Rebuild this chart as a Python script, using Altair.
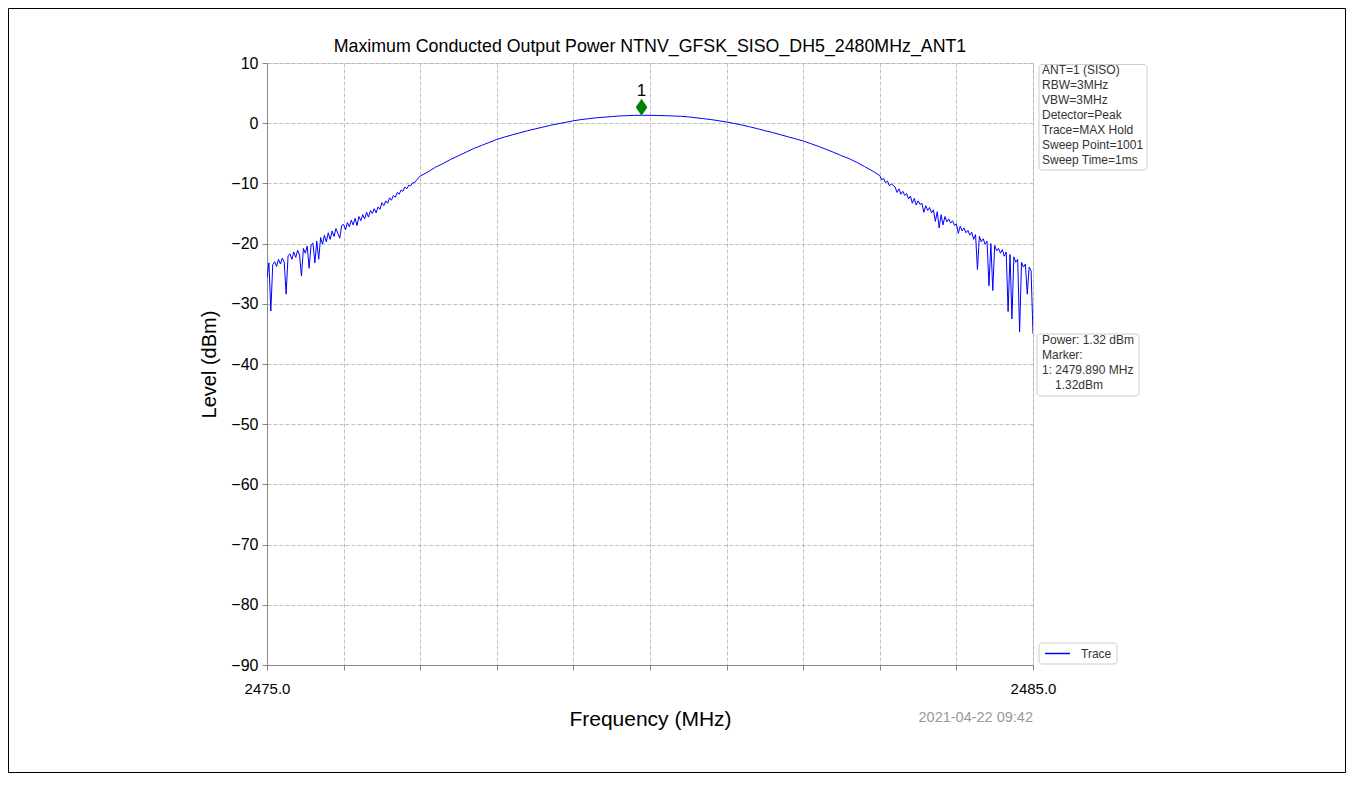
import altair as alt
import pandas as pd

# ---------------- data ----------------
title_text = "Maximum Conducted Output Power NTNV_GFSK_SISO_DH5_2480MHz_ANT1"

# left noisy skirt: 2475.000 .. 2476.975 MHz, step 0.025
left_start, left_step = 2475.0, 0.025
left_level = [
    -25.7, -23.2, -31.2, -23.5, -23.0, -23.8, -22.6, -23.4, -22.4, -23.1,
    -28.4, -22.0, -21.7, -22.6, -21.4, -22.3, -21.1, -21.9, -25.4, -20.8,
    -21.6, -20.4, -24.1, -20.2, -19.9, -23.2, -19.6, -22.6, -19.0, -20.1,
    -18.6, -19.7, -18.2, -19.3, -17.9, -18.8, -17.5, -18.3, -19.1, -17.0,
    -16.8, -17.7, -16.5, -17.2, -16.1, -16.9, -15.8, -17.0, -15.5, -16.2,
    -15.2, -15.9, -14.8, -15.6, -14.5, -15.0, -14.2, -14.9, -13.9, -14.3,
    -13.2, -13.7, -12.9, -13.3, -12.4, -12.8, -12.0, -12.3, -11.5, -11.8,
    -11.1, -11.3, -10.6, -10.9, -10.3, -10.4, -9.9, -9.9, -9.5, -9.1,
]
# smooth main lobe: 2477.0 .. 2482.9 MHz, step 0.1
mid_start, mid_step = 2477.0, 0.1
mid_level = [
    -8.8, -8.1, -7.3, -6.7, -6.0, -5.4, -4.8, -4.2, -3.7, -3.2,
    -2.7, -2.3, -1.95, -1.6, -1.25, -0.95, -0.65, -0.35, -0.1, 0.15,
    0.4, 0.6, 0.75, 0.9, 1.0, 1.1, 1.2, 1.25, 1.3, 1.32,
    1.3, 1.28, 1.25, 1.2, 1.15, 1.05, 0.9, 0.75, 0.6, 0.4,
    0.2, -0.05, -0.3, -0.6, -0.9, -1.25, -1.55, -1.9, -2.25, -2.6,
    -2.95, -3.4, -3.85, -4.35, -4.85, -5.4, -5.9, -6.5, -7.2, -7.9,
]
# right noisy skirt: 2483.000 .. 2485.000 MHz, step 0.025
right_start, right_step = 2483.0, 0.025
right_level = [
    -8.7, -9.4, -9.2, -9.9, -9.6, -10.4, -10.1, -10.3, -10.6, -11.5,
    -10.9, -11.8, -11.3, -12.0, -11.7, -12.6, -12.1, -13.3, -12.5, -13.6,
    -12.9, -13.5, -13.3, -14.8, -13.7, -14.5, -14.0, -14.9, -14.4, -16.3,
    -14.7, -17.4, -15.2, -16.9, -15.5, -16.4, -15.9, -16.6, -16.2, -17.0,
    -16.7, -18.3, -17.1, -17.9, -17.4, -18.2, -17.8, -18.6, -18.1, -19.3,
    -18.5, -24.3, -18.8, -19.7, -19.2, -20.1, -19.6, -27.0, -20.0, -27.8,
    -20.3, -21.2, -20.8, -21.6, -21.0, -22.1, -21.4, -31.3, -21.8, -32.5,
    -22.2, -23.1, -22.6, -34.7, -23.1, -23.9, -23.4, -28.4, -23.9, -24.5,
    -35.0,
]

marker_freq = [2479.89]
marker_level = [1.32]
marker_label = ["1"]

x_ticks = [2475, 2476, 2477, 2478, 2479, 2480, 2481, 2482, 2483, 2484, 2485]
y_ticks = [-90, -80, -70, -60, -50, -40, -30, -20, -10, 0, 10]

info_lines = ["ANT=1 (SISO)", "RBW=3MHz", "VBW=3MHz", "Detector=Peak",
              "Trace=MAX Hold", "Sweep Point=1001", "Sweep Time=1ms"]
power_lines = ["Power: 1.32 dBm", "Marker:", "1: 2479.890 MHz"]
power_value_line = "1.32dBm"
legend_label = "Trace"
timestamp = "2021-04-22 09:42"

# ---------------- build table ----------------
freq, level = [], []
for start, step, vals in [(left_start, left_step, left_level),
                          (mid_start, mid_step, mid_level),
                          (right_start, right_step, right_level)]:
    for i, v in enumerate(vals):
        freq.append(round(start + i * step, 4))
        level.append(v)
trace_df = pd.DataFrame({"freq": freq, "level": level})
marker_df = pd.DataFrame({"freq": marker_freq, "level": marker_level, "label": marker_label})
one = pd.DataFrame({"k": [0]})

FONT = "Liberation Sans"
W, H = 766, 602
GRID = dict(grid=True, gridColor="#b0b0b0", gridDash=[4, 2], gridWidth=0.8, gridOpacity=1)

x_enc = alt.X("freq:Q",
              scale=alt.Scale(domain=[2475, 2485], nice=False, zero=False),
              axis=alt.Axis(values=x_ticks,
                            labelExpr="datum.value == 2475 || datum.value == 2485 ? format(datum.value, '.1f') : ''",
                            title="Frequency (MHz)", titleFontSize=21, titlePadding=12,
                            titleFontWeight="normal", titleFont=FONT,
                            labelFontSize=15, labelPadding=11, labelFlush=False,
                            tickSize=5, labelOverlap=False, **GRID))
y_enc = alt.Y("level:Q",
              scale=alt.Scale(domain=[-90, 10], nice=False, zero=False),
              axis=alt.Axis(values=y_ticks, title="Level (dBm)", titleFontSize=20,
                            titleFontWeight="normal", titleFont=FONT,
                            titlePadding=11, labelFontSize=16, labelPadding=4,
                            tickSize=5, labelFlush=False, **GRID))

line = alt.Chart(trace_df).mark_line(color="#0000ff", strokeWidth=1, clip=True).encode(
    x=x_enc, y=y_enc)

diamond = alt.Chart(marker_df).mark_point(
    shape="M0,-1L0.68,0L0,1L-0.68,0Z", filled=True, color="#008000",
    opacity=1, size=290, yOffset=-8).encode(x="freq:Q", y="level:Q")

marker_text = alt.Chart(marker_df).mark_text(
    fontSize=17, font=FONT, color="black", dy=-24, baseline="middle").encode(
    x="freq:Q", y="level:Q", text="label:N")

title = alt.Chart(one).mark_text(
    fontSize=17.8, font=FONT, color="black", align="center", baseline="middle").encode(
    x=alt.value(W / 2), y=alt.value(-16), text=alt.value(title_text))

frame = alt.Chart(one).mark_rect(fillOpacity=0, stroke="black", strokeWidth=1).encode(
    x=alt.value(-258.5), x2=alt.value(1078.5), y=alt.value(-54.5), y2=alt.value(709.5))

box_style = dict(fill="white", stroke="#cccccc", strokeWidth=1, cornerRadius=3)
info_box = alt.Chart(one).mark_rect(**box_style).encode(
    x=alt.value(772), x2=alt.value(880), y=alt.value(1.5), y2=alt.value(107))
info_text = alt.Chart(one).mark_text(
    align="left", baseline="top", fontSize=12, font=FONT, color="#333333", lineHeight=15).encode(
    x=alt.value(775), y=alt.value(2), text=alt.value(info_lines))

power_box = alt.Chart(one).mark_rect(**box_style).encode(
    x=alt.value(770), x2=alt.value(872), y=alt.value(271), y2=alt.value(333))
power_text = alt.Chart(one).mark_text(
    align="left", baseline="top", fontSize=12, font=FONT, color="#333333", lineHeight=15).encode(
    x=alt.value(775), y=alt.value(272), text=alt.value(power_lines))
power_value = alt.Chart(one).mark_text(
    align="left", baseline="top", fontSize=12, font=FONT, color="#333333").encode(
    x=alt.value(788), y=alt.value(317), text=alt.value(power_value_line))

leg_box = alt.Chart(one).mark_rect(**box_style).encode(
    x=alt.value(772), x2=alt.value(850), y=alt.value(580), y2=alt.value(601))
leg_line = alt.Chart(one).mark_rule(color="#0000ff", strokeWidth=1.5).encode(
    x=alt.value(778), x2=alt.value(803), y=alt.value(590.5))
leg_text = alt.Chart(one).mark_text(
    align="left", baseline="middle", fontSize=12, font=FONT, color="#333333").encode(
    x=alt.value(814), y=alt.value(590.5), text=alt.value(legend_label))

stamp = alt.Chart(one).mark_text(
    align="right", baseline="middle", fontSize=14.5, font=FONT, color="#999999").encode(
    x=alt.value(W), y=alt.value(655), text=alt.value(timestamp))

chart = alt.layer(
    frame, line, diamond, marker_text, title,
    info_box, info_text, power_box, power_text, power_value,
    leg_box, leg_line, leg_text, stamp,
).properties(
    width=W, height=H,
    autosize=alt.AutoSizeParams(type="none"),
    padding={"left": 259, "top": 55, "right": 313, "bottom": 108},
).configure_view(
    stroke="black", strokeWidth=1
).configure_axis(
    labelFont=FONT, titleFont=FONT, labelColor="black", titleColor="black",
    titleFontWeight="normal", domainColor="black", tickColor="black",
).configure(background="white")

chart.save("out.html", embed_options={"renderer": "svg", "actions": False})
